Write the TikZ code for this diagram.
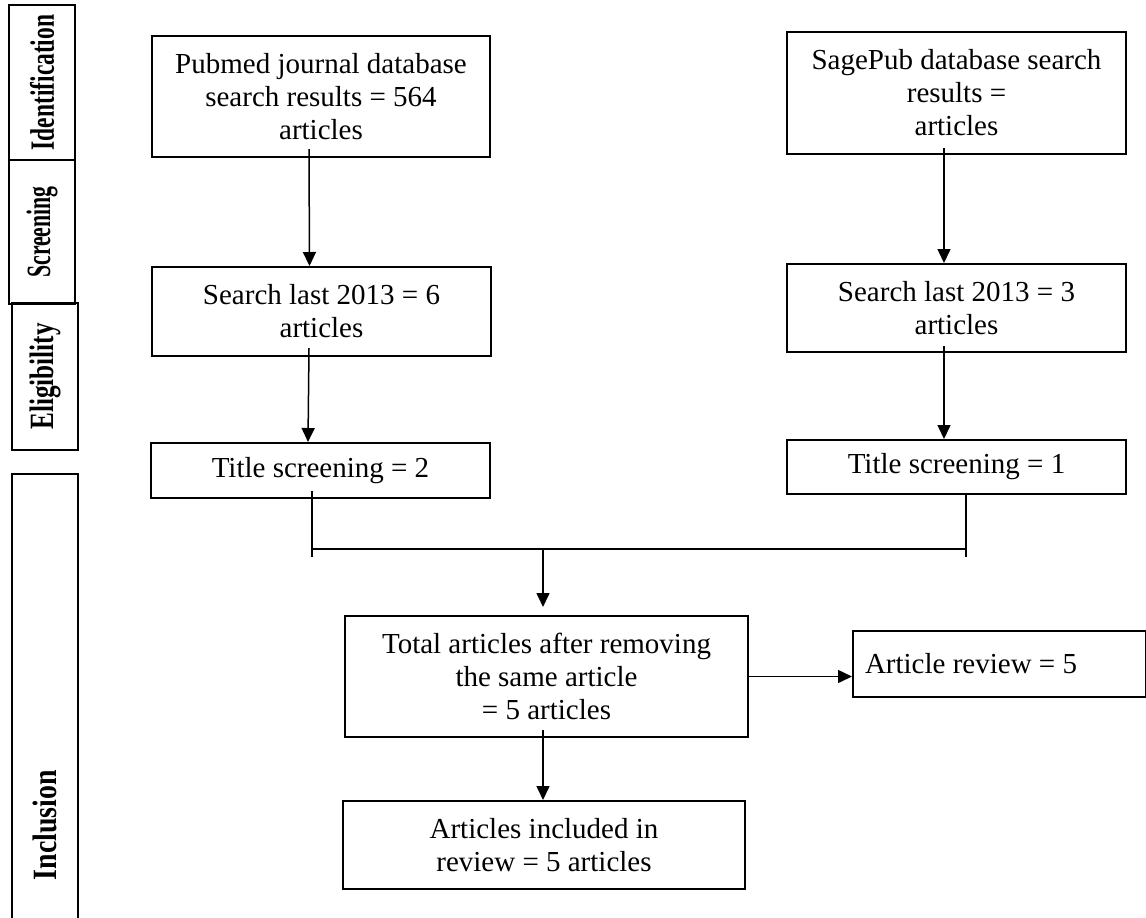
\documentclass[tikz,border=0pt]{standalone}
\usepackage{fontspec}
\setmainfont{Liberation Serif}
\usetikzlibrary{arrows.meta}
\begin{document}
\begin{tikzpicture}[x=0.5pt,y=-0.5pt,
  box/.style={draw, line width=1pt, align=center, inner sep=0pt,
    font=\fontsize{14.5}{16.5}\selectfont},
  side/.style={draw, line width=1pt, inner sep=0pt},
  sidetext/.style={rotate=90, inner sep=0pt, font=\fontsize{17}{17}\selectfont\bfseries},
  arr/.style={line width=0.75pt, -{Triangle[width=6.5pt,length=7pt]}},
  ln/.style={line width=0.75pt}]
\useasboundingbox (0,0) rectangle (1146,917);
% side bars
\node[side, minimum width=33pt, minimum height=77.5pt] (idb) at (42,82.5) {};
\node[sidetext] (idt) at (idb.center) {\scalebox{0.69}[1]{Identification}};
\node[side, minimum width=33pt, minimum height=72pt] (scb) at (42,232) {};
\node[sidetext] (sct) at (scb.center) {\scalebox{0.64}[1]{Screening}};
\node[side, minimum width=33pt, minimum height=73.5pt] (elb) at (45,376.5) {};
\node[sidetext] (elt) at (elb.center) {\scalebox{0.74}[1]{Eligibility}};
\node[side, minimum width=33pt, minimum height=225pt] (inb) at (45,699) {};
\node[sidetext] (int) at (45,825) {\scalebox{0.82}[1]{Inclusion}};
% main boxes
\node[box, minimum width=169pt, minimum height=60.5pt] (pub) at (321,96.5)
  {Pubmed journal database\\search results = 564\\articles};
\node[box, minimum width=169.5pt, minimum height=61pt] (sage) at (956.5,93)
  {SagePub database search\\results =\\articles};
\node[box, minimum width=169.5pt, minimum height=44.5pt] (s6) at (321.5,311.5)
  {Search last 2013 = 6\\articles};
\node[box, minimum width=169.5pt, minimum height=44pt] (s3) at (956.5,308)
  {Search last 2013 = 3\\articles};
\node[box, minimum width=169.5pt, minimum height=27.5pt] (t2) at (320.5,470.5)
  {Title screening = 2};
\node[box, minimum width=169.5pt, minimum height=27pt] (t1) at (956.5,467)
  {Title screening = 1};
\node[box, minimum width=201.5pt, minimum height=60.5pt] (total) at (546.5,676.5)
  {Total articles after removing\\the same article\\= 5 articles};
\node[box, minimum width=146.5pt, minimum height=33pt, text width=134.5pt, align=flush left,
  inner xsep=6pt] (review) at (999.5,664) {Article review = 5};
\node[box, minimum width=201pt, minimum height=44pt] (final) at (544,845)
  {Articles included in\\review = 5 articles};
% connectors
\coordinate (mL) at (312,549);
\coordinate (mR) at (966,549);
\coordinate (mC) at (543,549);
\coordinate (mLb) at (312,557);
\coordinate (mRb) at (966,557);
\draw[arr] ([xshift=-6pt,yshift=4.5pt]pub.south) -- ([xshift=-6pt]s6.north);
\draw[arr] ([xshift=-6.25pt,yshift=4.5pt]s6.south) -- ([xshift=-6.25pt]t2.north);
\draw[arr] ([xshift=-6.25pt,yshift=3.5pt]sage.south) -- ([xshift=-6.25pt]s3.north);
\draw[arr] ([xshift=-6.25pt,yshift=3.5pt]s3.south) -- ([xshift=-6.25pt]t1.north);
\draw[ln] ([xshift=-4.25pt,yshift=4pt]t2.south) -- (mLb);
\draw[ln] ([xshift=4.75pt,yshift=1pt]t1.south) -- (mRb);
\draw[ln] (mL) -- (mR);
\draw[arr] (mC) -- ([yshift=4pt]mC |- total.north);
\draw[arr] (total.east) -- (review.west |- total.east);
\draw[arr] ([xshift=-1.75pt,yshift=4pt]total.south) -- (final.north -| mC);
\end{tikzpicture}
\end{document}
